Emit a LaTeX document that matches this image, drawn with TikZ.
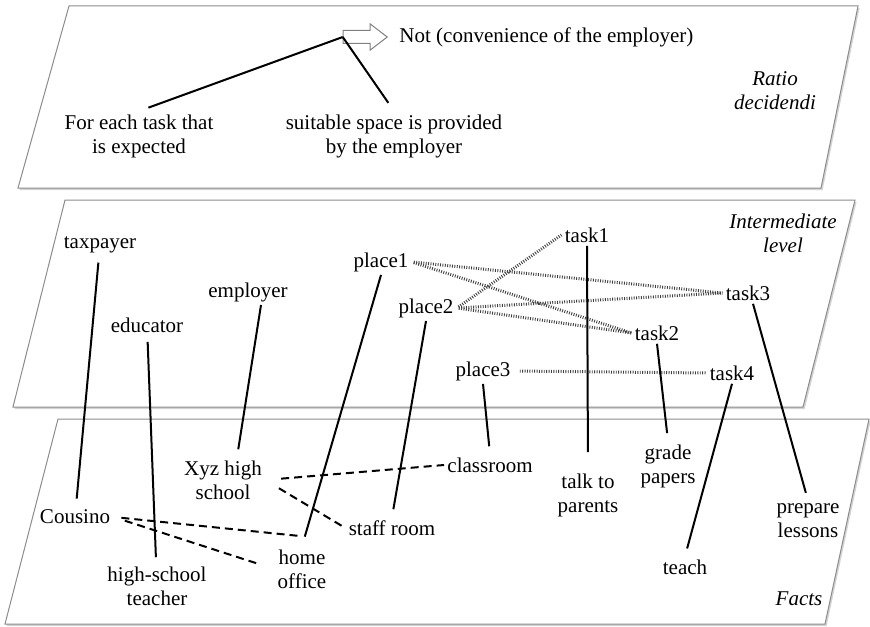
\documentclass[tikz,border=0pt]{standalone}
\usepackage{fontspec}
\setmainfont{Liberation Serif}
\usetikzlibrary{positioning,shapes.arrows,shadows}

\begin{document}
\begin{tikzpicture}[x=0.5pt,y=-0.5pt,
    lbl/.style={font=\fontsize{10.5}{12}\selectfont, align=center, inner sep=1.5pt},
    lvl/.style={lbl, font=\fontsize{10.5}{12}\selectfont\itshape},
    panel/.style={draw=black!45, fill=white, line width=0.5pt, drop shadow={shadow xshift=0.8pt, shadow yshift=-1pt, opacity=0.35}},
    link/.style={black, line width=1pt},
    dots/.style={black!75, line width=1.5pt, dash pattern=on 0.45pt off 0.75pt},
    dashes/.style={black, line width=1pt, dash pattern=on 4pt off 2.5pt}]

    \useasboundingbox (0,0) rectangle (870,626);

    % levels
    \path[panel] (69,6) -- (858,6) -- (821,188) -- (18,188) -- cycle;
    \path[panel] (65,200) -- (855,200) -- (803,407) -- (13,407) -- cycle;
    \path[panel] (58,419) -- (869,419) -- (825,624) -- (5,624) -- cycle;

    % ratio decidendi
    \node[single arrow, draw=black!50, fill=white, line width=0.5pt, minimum height=22pt, inner sep=3pt,
      single arrow head extend=3.3pt, single arrow tip angle=75, single arrow head indent=0pt] (notarrow) at (361,37) {};
    \node[lbl, right=4pt of notarrow] (notlabel) {Not (convenience of the employer)};
    \node[lbl] (foreach) at (139,136) {For each task that\\is expected};
    \node[lbl] (suitable) at (394,136) {suitable space is provided\\by the employer};
    \node[lvl] (ratio) at (775,91) {Ratio\\decidendi};
    \draw[link, shorten <=5pt] (foreach.north) -- (notarrow.tail);
    \draw[link, shorten >=5pt] (notarrow.tail) -- (suitable.north);

    % intermediate level
    \node[lbl] (taxpayer) at (100,245) {taxpayer};
    \node[lbl] (educator) at (147,325) {educator};
    \node[lbl] (employer) at (248,292) {employer};
    \node[lbl] (place1) at (381,262) {place1};
    \node[lbl] (place2) at (426,308) {place2};
    \node[lbl] (place3) at (483,371) {place3};
    \node[lbl] (task1) at (587,235) {task1};
    \node[lbl] (task2) at (657,333) {task2};
    \node[lbl] (task3) at (748,293) {task3};
    \node[lbl] (task4) at (732,373) {task4};
    \node[lvl] (interm) at (783,233) {Intermediate\\level};

    % facts
    \node[lbl] (cousino) at (75,517) {Cousino};
    \node[lbl] (teacher) at (157,586) {high-school\\teacher};
    \node[lbl] (xyz) at (223,480) {Xyz high\\school};
    \node[lbl] (homeoffice) at (302,569) {home\\office};
    \node[lbl] (staffroom) at (392,528) {staff room};
    \node[lbl] (classroom) at (490,465) {classroom};
    \node[lbl] (talk) at (588,495) {talk to\\parents};
    \node[lbl] (grade) at (668,466) {grade\\papers};
    \node[lbl] (teach) at (685,567) {teach};
    \node[lbl] (prepare) at (808,521) {prepare\\lessons};
    \node[lvl] (facts) at (799,599) {Facts};

    % places -- tasks
    \draw[dots, shorten <=1pt] (place1.east) -- (task3.west);
    \draw[dots, shorten <=1pt] (place1.east) -- (task2.west);
    \draw[dots, shorten <=1pt] (place2.east) -- (task1.west);
    \draw[dots, shorten <=1pt] (place2.east) -- (task3.west);
    \draw[dots, shorten <=1pt] (place2.east) -- (task2.west);
    \draw[dots, shorten <=3pt] (place3.east) -- (task4.west);

    % facts among themselves
    \draw[dashes, shorten <=4pt] (cousino.east) -- ([yshift=5pt]homeoffice.north);
    \draw[dashes, shorten <=6pt, shorten >=8pt] (cousino.east) -- (homeoffice.west);
    \draw[dashes, shorten <=8pt] (xyz.east) -- (classroom.west);
    \draw[dashes, shorten <=8pt] (xyz.east) -- (staffroom.west);

    % intermediate -- facts
    \draw[link, shorten <=3pt, shorten >=4pt] (taxpayer) -- (cousino);
    \draw[link, shorten <=3pt, shorten >=3pt] (educator) -- (teacher);
    \draw[link, shorten >=4pt] ([xshift=6.5pt]employer.south) -- ([xshift=7pt]xyz.north);
    \draw[link, shorten >=5pt] (place1.south) -- (homeoffice.north);
    \draw[link, shorten >=4pt] (place2.south) -- (staffroom.north);
    \draw[link, shorten >=4pt] (place3.south) -- (classroom.north);
    \draw[link, shorten >=9pt] (task1.south) -- (talk.north);
    \draw[link, shorten >=4pt] (task2.south) -- (grade.north);
    \draw[link, shorten >=4pt] (task4.south) -- (teach.north);
    \draw[link, shorten >=4pt] ([xshift=2.5pt]task3.south) -- (prepare.north);

\end{tikzpicture}
\end{document}
